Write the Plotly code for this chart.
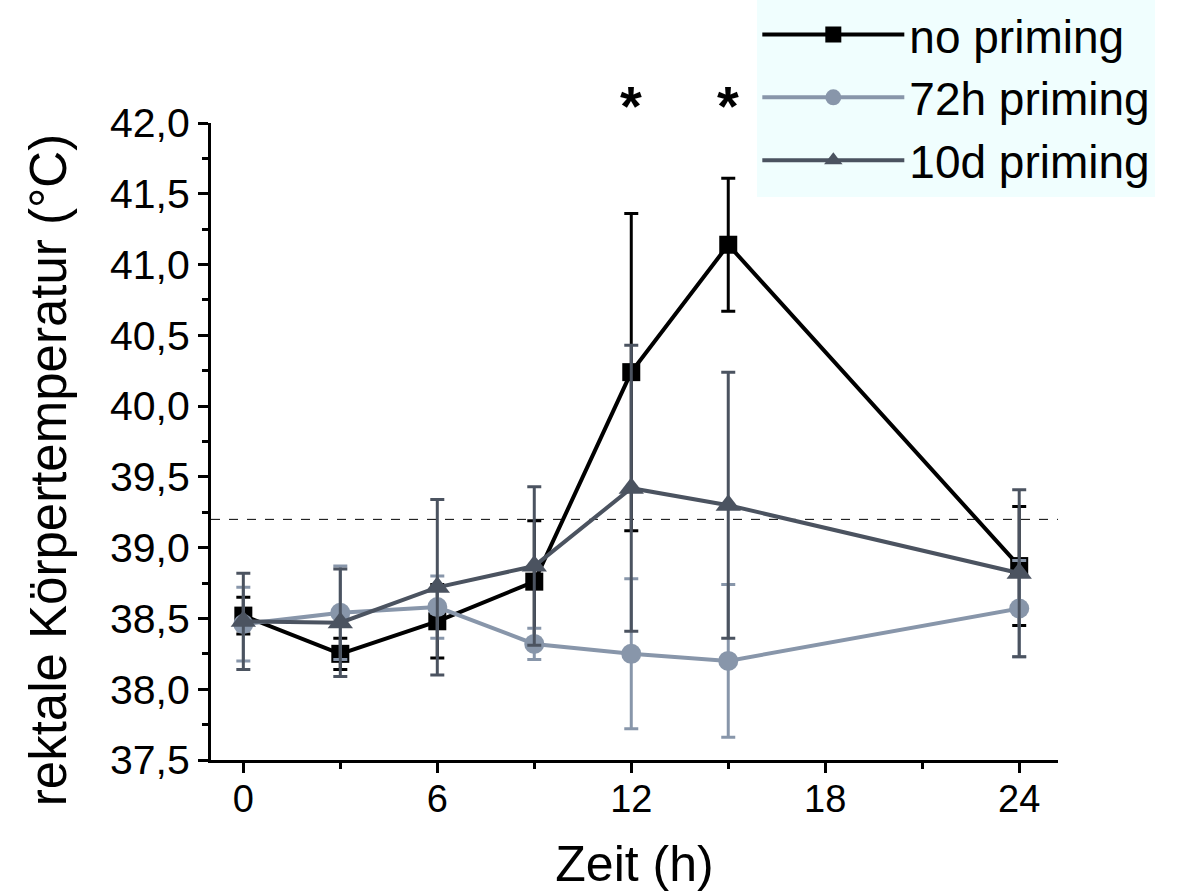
import plotly.graph_objects as go

# Time points (h)
zeit = [0, 3, 6, 9, 12, 15, 24]

# no priming
no_mean = [38.52, 38.25, 38.48, 38.76, 40.24, 41.14, 38.87]
no_err = [0.13, 0.11, 0.26, 0.43, 1.12, 0.47, 0.42]

# 72h priming
h72_mean = [38.46, 38.54, 38.58, 38.32, 38.25, 38.20, 38.57]
h72_err = [0.26, 0.33, 0.22, 0.11, 0.53, 0.54, 0.34]

# 10d priming
d10_mean = [38.48, 38.47, 38.72, 38.87, 39.42, 39.30, 38.82]
d10_err = [0.34, 0.38, 0.62, 0.56, 1.01, 0.94, 0.59]

series_names = ["no priming", "72h priming", "10d priming"]
threshold = 39.2
sig_times = [12, 15]
y_ticks = [37.5, 38.0, 38.5, 39.0, 39.5, 40.0, 40.5, 41.0, 41.5, 42.0]
x_ticks = [0, 6, 12, 18, 24]

C_NO = "#000000"
C_72 = "#8896aa"
C_10 = "#4b5360"

fig = go.Figure()

def add(name, y, err, color, symbol, size):
    fig.add_trace(go.Scatter(
        x=zeit, y=y, name=name, mode="lines+markers",
        line=dict(color=color, width=4),
        marker=dict(symbol=symbol, size=size, color=color),
        error_y=dict(type="data", array=err, visible=True,
                     color=color, thickness=3, width=7),
        cliponaxis=False,
    ))

add(series_names[0], no_mean, no_err, C_NO, "square", 18)
add(series_names[1], h72_mean, h72_err, C_72, "circle", 20)
add(series_names[2], d10_mean, d10_err, C_10, "triangle-up", 22)

fig.add_shape(type="line", xref="x domain", yref="y", x0=0, x1=1,
              y0=threshold, y1=threshold,
              line=dict(color="black", width=1, dash="dash"), layer="below")

for t in sig_times:
    fig.add_annotation(x=t, y=1.028, xref="x", yref="paper", text="<b>*</b>",
                       showarrow=False, font=dict(size=56, color="black",
                       family="Liberation Sans, Arial"), yanchor="middle")

# y-axis title as a free annotation (centered slightly below plot centre, as in reference)
fig.add_annotation(x=-(211 - 48) / 847, xref="paper", y=0.455, yref="paper",
                   text="rektale Körpertemperatur (°C)",
                   textangle=-90, showarrow=False, font=dict(size=51, color="black"),
                   xanchor="center", yanchor="middle")

fig.update_layout(
    width=1185, height=892,
    margin=dict(l=211, r=127, t=123, b=132, autoexpand=False),
    paper_bgcolor="white", plot_bgcolor="white",
    separators=",.",
    font=dict(family="Liberation Sans, Arial", color="black"),
    showlegend=True,
    legend=dict(
        x=0.645, y=1.196, xanchor="left", yanchor="top",
        bgcolor="#f0fefe", font=dict(size=46, color="black"),
        itemwidth=142, tracegroupgap=0,
    ),
)

fig.update_xaxes(
    range=[-1.0, 25.2], tickvals=x_ticks, ticktext=[str(v) for v in x_ticks],
    showline=True, linecolor="black", linewidth=3,
    ticks="outside", ticklen=10, tickwidth=3, tickcolor="black",
    minor=dict(dtick=3, tick0=0, ticks="outside", ticklen=6, tickwidth=3, tickcolor="black"),
    showgrid=False, zeroline=False, automargin=False,
    tickfont=dict(size=38, family="Liberation Sans Narrow, Liberation Sans, Arial"),
    ticklabelstandoff=-7,
    title=dict(text="Zeit (h)", font=dict(size=50), standoff=28),
)
fig.update_yaxes(
    range=[37.5, 42.0], tickvals=y_ticks, tickformat=".1f",
    showline=True, linecolor="black", linewidth=3,
    ticks="outside", ticklen=10, tickwidth=3, tickcolor="black",
    minor=dict(dtick=0.25, tick0=37.5, ticks="outside", ticklen=6, tickwidth=3, tickcolor="black"),
    showgrid=False, zeroline=False, automargin=False,
    tickfont=dict(size=41),
)

fig.write_html("out.html")
